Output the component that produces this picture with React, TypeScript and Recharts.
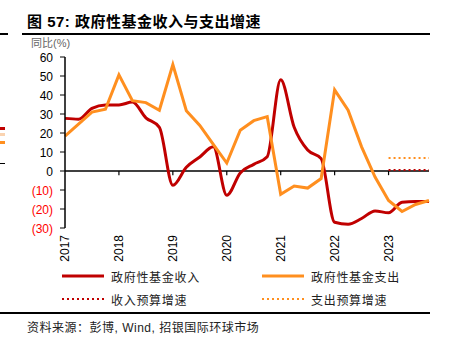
import React from 'react';
import { LineChart, Line, XAxis, YAxis, ReferenceLine } from 'recharts';

const periods = [
  '2017Q1', '2017Q2', '2017Q3', '2017Q4',
  '2018Q1', '2018Q2', '2018Q3', '2018Q4',
  '2019Q1', '2019Q2', '2019Q3', '2019Q4',
  '2020Q1', '2020Q2', '2020Q3', '2020Q4',
  '2021Q1', '2021Q2', '2021Q3', '2021Q4',
  '2022Q1', '2022Q2', '2022Q3', '2022Q4',
  '2023Q1', '2023Q2', '2023Q3', '2023Q4',
];

// 政府性基金收入 (同比 %)
const revenue = [
  27.7, 27.3, 33, 34.8,
  34.8, 36.3, 28, 23,
  -7.5, 2, 7.4, 12.7,
  -12.8, -1, 3.5, 7.5,
  48, 23, 11, 6.5,
  -27, -28, -25, -21,
  -22, -16.5, -16, -16,
];

// 政府性基金支出 (同比 %)
const expenditure = [
  18.4, 24.7, 31, 32.5,
  50.6, 37, 36, 32,
  56, 31.7, 24, 14,
  4.2, 21.5, 26.5, 28.6,
  -12.3, -7.9, -9, -4,
  42.7, 32, 12.7, -3.2,
  -15.5, -21.3, -17.6, -15.5,
];

const budgetPeriods = ['2023Q1', '2023Q2', '2023Q3', '2023Q4'];
const revenueBudget = [0.5, 0.5, 0.5, 0.5];
const expenditureBudget = [6.8, 6.8, 6.8, 6.8];

const yTicks = [-30, -20, -10, 0, 10, 20, 30, 40, 50, 60];
const yearTicks = ['2018Q1', '2019Q1', '2020Q1', '2021Q1', '2022Q1', '2023Q1'];

const RED = '#C00000';
const ORANGE = '#FF8F1F';
const FONT = "'Liberation Sans', Arial, 'Noto Sans CJK SC', sans-serif";

const data = periods.map((p, i) => {
  const b = budgetPeriods.indexOf(p);
  return {
    period: p,
    revenue: revenue[i],
    expenditure: expenditure[i],
    revenueBudget: b >= 0 ? revenueBudget[b] : null,
    expenditureBudget: b >= 0 ? expenditureBudget[b] : null,
  };
});

const YTick = (props: any) => {
  const { x, y, payload } = props;
  const v = payload.value;
  return (
    <text x={x} y={y} dy={4.5} textAnchor="end" fontSize={12} fontFamily={FONT} fill={v < 0 ? '#FF0000' : '#000'}>
      {v < 0 ? `(${-v})` : v}
    </text>
  );
};

const XTick = (props: any) => {
  const { x, payload } = props;
  const ty = 235;
  return (
    <text x={x} y={ty} dy="0.35em" transform={`rotate(-90, ${x}, ${ty})`} textAnchor="end" fontSize={12} fontFamily={FONT} fill="#000">
      {String(payload.value).slice(0, 4)}
    </text>
  );
};

const legendItems = [
  { label: '政府性基金收入', color: RED, dotted: false, left: 62, top: 0 },
  { label: '政府性基金支出', color: ORANGE, dotted: false, left: 262, top: 0 },
  { label: '收入预算增速', color: RED, dotted: true, left: 62, top: 23 },
  { label: '支出预算增速', color: ORANGE, dotted: true, left: 262, top: 23 },
];

const LegendBox = () => (
  <div style={{ position: 'absolute', left: 0, top: 267, width: 455, height: 40 }}>
    {legendItems.map((it) => (
      <div key={it.label} style={{ position: 'absolute', left: it.left, top: it.top, display: 'flex', alignItems: 'center', height: 18 }}>
        <svg width={42} height={6} style={{ display: 'block' }}>
          {it.dotted ? (
            <line x1={0} y1={3} x2={42} y2={3} stroke={it.color} strokeWidth={2} strokeDasharray="2 3" />
          ) : (
            <line x1={0} y1={3} x2={42} y2={3} stroke={it.color} strokeWidth={3} />
          )}
        </svg>
        <span style={{ marginLeft: 7, fontSize: 12, letterSpacing: 0.7, color: '#222', fontFamily: FONT }}>{it.label}</span>
      </div>
    ))}
  </div>
);

export default function App() {
  return (
    <div style={{ position: 'absolute', left: 0, top: 0, width: 455, height: 352, background: '#fff', fontFamily: FONT, overflow: 'hidden' }}>
      <div style={{ position: 'absolute', left: 27, top: 10, fontSize: 15, fontWeight: 'bold', color: '#000', letterSpacing: 0.5, whiteSpace: 'nowrap' }}>
        图 57: 政府性基金收入与支出增速
      </div>
      <div style={{ position: 'absolute', left: 0, top: 33, width: 8, height: 2, background: '#000' }} />
      <div style={{ position: 'absolute', left: 22, top: 33, width: 408, height: 2, background: '#000' }} />
      {/* clipped marks from neighbouring chart */}
      <div style={{ position: 'absolute', left: 0, top: 127, width: 5, height: 3, background: RED }} />
      <div style={{ position: 'absolute', left: 0, top: 133, width: 5, height: 3, background: '#FAD3B0' }} />
      <div style={{ position: 'absolute', left: 0, top: 141, width: 5, height: 3, background: ORANGE }} />
      <div style={{ position: 'absolute', left: 0, top: 163, width: 5, height: 1, background: '#000' }} />

      <div style={{ position: 'absolute', left: 31, top: 37, fontSize: 11, lineHeight: '13px', color: '#666', whiteSpace: 'nowrap' }}>同比(%)</div>

      <div style={{ position: 'absolute', left: 0, top: 0 }}>
        <LineChart width={455} height={352} data={data} margin={{ top: 57, right: 26, left: 0, bottom: 84 }}>
          <XAxis dataKey="period" interval={3} axisLine={false} tickLine={false} tick={<XTick />} height={40} />
          <YAxis
            domain={[-30, 60]}
            ticks={yTicks}
            width={65}
            interval={0}
            axisLine={{ stroke: '#000', strokeWidth: 1.5 }}
            tickLine={{ stroke: '#000', strokeWidth: 1 }}
            tickSize={5}
            tickMargin={7}
            tick={<YTick />}
          />
          <ReferenceLine y={0} stroke="#000" strokeWidth={1.5} />
          {yearTicks.map((t) => (
            <ReferenceLine key={t} segment={[{ x: t, y: 0 }, { x: t, y: -2.2 }]} stroke="#000" strokeWidth={1.2} />
          ))}
          <Line type="monotone" dataKey="revenue" stroke={RED} strokeWidth={3} dot={false} isAnimationActive={false} />
          <Line type="linear" dataKey="expenditure" stroke={ORANGE} strokeWidth={3} dot={false} isAnimationActive={false} />
          <Line type="linear" dataKey="revenueBudget" stroke={RED} strokeWidth={2} strokeDasharray="2 3" dot={false} isAnimationActive={false} />
          <Line type="linear" dataKey="expenditureBudget" stroke={ORANGE} strokeWidth={2} strokeDasharray="2 3" dot={false} isAnimationActive={false} />
        </LineChart>
      </div>

      <LegendBox />

      <div style={{ position: 'absolute', left: 0, top: 312, width: 430, height: 2, background: '#000' }} />
      <div style={{ position: 'absolute', left: 27, top: 318, fontSize: 12, color: '#222', whiteSpace: 'nowrap', letterSpacing: 0.5 }}>
        资料来源：彭博, Wind, 招银国际环球市场
      </div>
    </div>
  );
}
